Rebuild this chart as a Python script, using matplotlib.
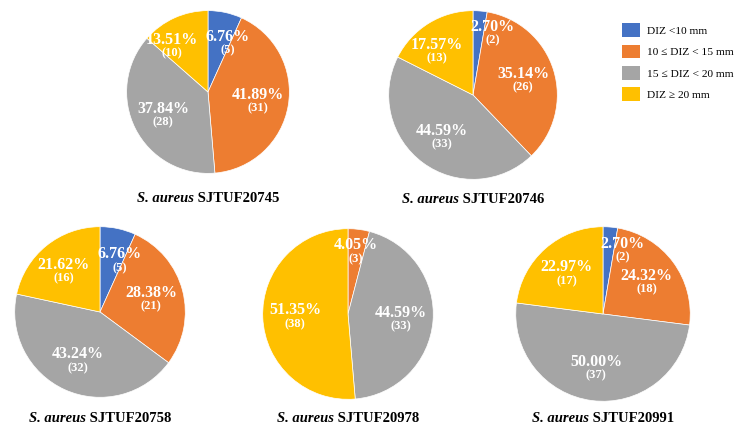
import matplotlib
matplotlib.use("Agg")
import numpy as np
import matplotlib.pyplot as plt
from matplotlib.patches import Patch

categories = ["DIZ <10 mm", "10 \u2264 DIZ < 15 mm", "15 \u2264 DIZ < 20 mm", "DIZ \u2265 20 mm"]
strains = ["SJTUF20745", "SJTUF20746", "SJTUF20758", "SJTUF20978", "SJTUF20991"]
counts_20745 = [5, 31, 28, 10]
counts_20746 = [2, 26, 33, 13]
counts_20758 = [5, 21, 32, 16]
counts_20978 = [0, 3, 33, 38]
counts_20991 = [2, 18, 37, 17]
all_counts = [counts_20745, counts_20746, counts_20758, counts_20978, counts_20991]

colors = ["#4472C4", "#ED7D31", "#A5A5A5", "#FFC000"]
SERIF = ["Liberation Serif", "DejaVu Serif"]

W, H = 746, 433
fig = plt.figure(figsize=(W / 100, H / 100), dpi=100)
fig.patch.set_facecolor("white")

# pixel layout: (cx, cy, r, title_y)
layout = [
    (208, 92, 83, 198),
    (473, 95, 86, 200),
    (100, 312, 87, 418),
    (348, 314, 87, 418),
    (603, 314, 89, 418),
]

titles = []
labels = []
for counts, strain, (cx, cy, r, ty) in zip(all_counts, strains, layout):
    ax = fig.add_axes([(cx - r) / W, 1 - (cy + r) / H, 2 * r / W, 2 * r / H])
    total = sum(counts)
    wedges, texts = ax.pie(
        counts, colors=colors, startangle=90, counterclock=False,
        wedgeprops=dict(edgecolor="white", linewidth=0.5))
    ax.set_xlim(-1.02, 1.02)
    ax.set_ylim(-1.02, 1.02)
    ax.set_aspect("equal")
    ax.axis("off")
    last = max(i for i, c in enumerate(counts) if c > 0)
    for i, (c, w) in enumerate(zip(counts, wedges)):
        if c == 0:
            continue
        frac = c / total
        mid = np.deg2rad((w.theta1 + w.theta2) / 2)
        d = 0.74 if frac < 0.05 else 0.62
        x, y = d * np.cos(mid), d * np.sin(mid)
        tp = ax.text(x, y + 0.07, f"{frac * 100:.2f}%", ha="center", va="center",
                     color="white", fontsize=11.5, fontweight="bold", family=SERIF)
        tc = ax.text(x, y - 0.09, f"({c})", ha="center", va="center",
                     color="white", fontsize=9, fontweight="bold", family=SERIF)
        role = "first" if i == 0 else ("last" if i == last else "mid")
        labels.append((ax, role, tp, tc))
    t1 = fig.text(cx / W, 1 - ty / H, "S. aureus", ha="left", va="center",
                  fontsize=10.5, fontweight="bold", fontstyle="italic", family=SERIF)
    t2 = fig.text(cx / W, 1 - ty / H, " " + strain, ha="left", va="center",
                  fontsize=10.5, fontweight="bold", family=SERIF)
    titles.append((t1, t2, cx))

fig.canvas.draw()
renderer = fig.canvas.get_renderer()
for t1, t2, cx in titles:
    w1 = t1.get_window_extent(renderer).width
    w2 = t2.get_window_extent(renderer).width
    left = cx - (w1 + w2) / 2
    y = t1.get_position()[1]
    t1.set_position((left / W, y))
    t2.set_position(((left + w1) / W, y))

# nudge labels of the slices next to 12 o'clock away from the vertical line
for ax, role, tp, tc in labels:
    inv = ax.transData.inverted()
    bb = tp.get_window_extent(renderer)
    (x0, _), (x1, _) = inv.transform([(bb.x0, bb.y0), (bb.x1, bb.y1)])
    x, y = tp.get_position()
    shift = 0.0
    if role == "first" and y > 0.2 and x0 < -0.03:
        shift = -0.03 - x0
    elif role == "last" and y > 0.2 and x1 > -0.12:
        shift = -0.12 - x1
    if shift:
        tp.set_position((x + shift, y))
        xc, yc = tc.get_position()
        tc.set_position((xc + shift, yc))

handles = [Patch(facecolor=c, edgecolor="none") for c in colors]
fig.legend(handles, categories, loc="upper left", bbox_to_anchor=(612 / W, 1 - 13 / H),
           frameon=False, prop=dict(family=SERIF, size=8.2),
           handlelength=1.6, handleheight=1.5, labelspacing=0.65, handletextpad=0.6)

fig.savefig("out.png", dpi=100, facecolor="white")
